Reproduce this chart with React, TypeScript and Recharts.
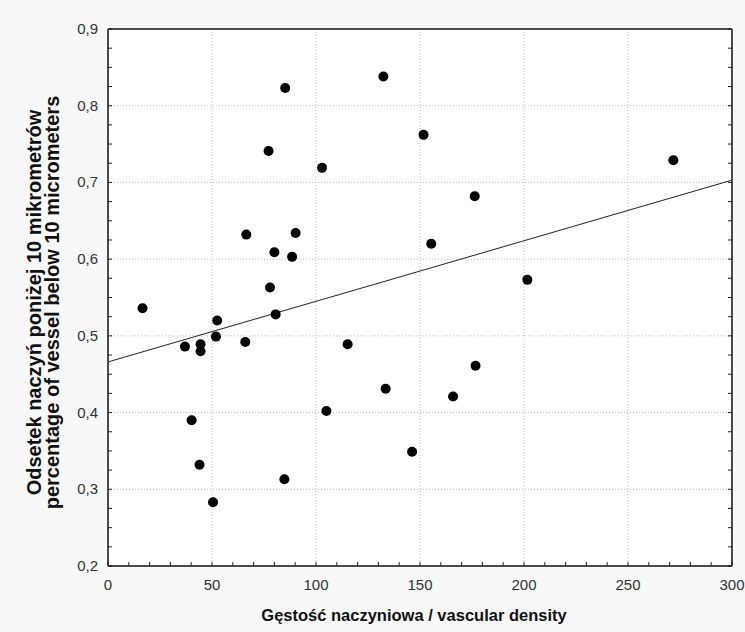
import React from 'react';
import { ScatterChart, Scatter, XAxis, YAxis, CartesianGrid, ReferenceLine, Label } from 'recharts';

// vascular density (x) vs fraction of vessels below 10 micrometers (y)
const density = [
  16.6, 37.0, 40.2, 44.5, 44.5, 44.0, 50.5, 51.9, 52.5, 66.5, 66.0, 77.2, 77.9, 80.0, 80.6, 85.2,
  84.8, 88.5, 90.2, 102.9, 105.0, 115.2, 132.4, 133.5, 146.2, 151.7, 155.4, 165.9, 176.3, 176.7, 201.6, 271.8,
];
const fraction = [
  0.536, 0.486, 0.390, 0.489, 0.480, 0.332, 0.283, 0.499, 0.520, 0.632, 0.492, 0.741, 0.563, 0.609, 0.528, 0.823,
  0.313, 0.603, 0.634, 0.719, 0.402, 0.489, 0.838, 0.431, 0.349, 0.762, 0.620, 0.421, 0.682, 0.461, 0.573, 0.729,
];
// fitted line, read at the plot edges
const fitX = [0, 300];
const fitY = [0.466, 0.703];

const xMajor = [0, 50, 100, 150, 200, 250, 300];
const xMinor = [0, 10, 20, 30, 40, 50, 60, 70, 80, 90, 100, 110, 120, 130, 140, 150, 160, 170, 180, 190, 200, 210, 220, 230, 240, 250, 260, 270, 280, 290, 300];
const yMajor = [0.2, 0.3, 0.4, 0.5, 0.6, 0.7, 0.8, 0.9];
const yMinor = [
  0.2, 0.225, 0.25, 0.275, 0.3, 0.325, 0.35, 0.375, 0.4, 0.425, 0.45, 0.475, 0.5, 0.525, 0.55, 0.575,
  0.6, 0.625, 0.65, 0.675, 0.7, 0.725, 0.75, 0.775, 0.8, 0.825, 0.85, 0.875, 0.9,
];

const xTitle = 'Gęstość naczyniowa / vascular density';
const yTitle1 = 'Odsetek naczyń poniżej 10 mikrometrów';
const yTitle2 = 'percentage of vessel below 10 micrometers';

const points = density.map((x, i) => ({ x, y: fraction[i] }));

const FONT = '"Liberation Sans", Arial, sans-serif';
const AXIS = '#4a4a4a';
const TL = 4;

const isMajorX = (v: number) => xMajor.includes(v);
const isMajorY = (v: number) => yMajor.some((m) => Math.abs(m - v) < 1e-6);
const fmtY = (v: number) => v.toFixed(1).replace('.', ',');

function BottomTick(props: any) {
  const { x, y, payload } = props;
  const v = payload.value;
  return (
    <g>
      <line x1={x} x2={x} y1={y} y2={y - TL} stroke="#222" />
      {isMajorX(v) && (
        <text x={x} y={y + 24} textAnchor="middle" fontFamily={FONT} fontSize={15} fill="#333">{v}</text>
      )}
    </g>
  );
}

function TopTick(props: any) {
  const { x, y } = props;
  return <line x1={x} x2={x} y1={y} y2={y + TL} stroke="#222" />;
}

function LeftTick(props: any) {
  const { x, y, payload } = props;
  const v = payload.value;
  return (
    <g>
      <line x1={x} x2={x + TL} y1={y} y2={y} stroke="#222" />
      {isMajorY(v) && (
        <text x={x - 10} y={y + 5} textAnchor="end" fontFamily={FONT} fontSize={15} fill="#333">{fmtY(v)}</text>
      )}
    </g>
  );
}

function RightTick(props: any) {
  const { x, y } = props;
  return <line x1={x} x2={x - TL} y1={y} y2={y} stroke="#222" />;
}

export default function App() {
  return (
    <div style={{ position: 'absolute', left: 0, top: 0, width: 745, height: 632, background: '#f8f8f8' }}>
      <ScatterChart width={745} height={632} margin={{ top: 19, right: 3, bottom: 26, left: 48 }}>
        <CartesianGrid
          xAxisId="b"
          yAxisId="l"
          fill="#ffffff"
          stroke="#bdbdbd"
          strokeDasharray="1 2"
          verticalValues={xMajor.slice(1, -1)}
          horizontalValues={yMajor.slice(1, -1)}
        />
        <XAxis
          xAxisId="b"
          type="number"
          dataKey="x"
          domain={[0, 300]}
          ticks={xMinor}
          interval={0}
          allowDataOverflow
          height={40}
          tickSize={0}
          tickMargin={0}
          tickLine={false}
          axisLine={{ stroke: AXIS, strokeWidth: 2 }}
          tick={<BottomTick />}
        >
          <Label
            content={(p: any) => {
              const vb = p.viewBox;
              return (
                <text x={vb.x + vb.width / 2 - 6} y={vb.y + 55} textAnchor="middle" fontFamily={FONT} fontWeight="bold" fontSize={16.5} fill="#111">
                  {xTitle}
                </text>
              );
            }}
          />
        </XAxis>
        <XAxis
          xAxisId="t"
          orientation="top"
          type="number"
          domain={[0, 300]}
          ticks={xMinor}
          interval={0}
          allowDataOverflow
          height={10}
          tickSize={0}
          tickMargin={0}
          tickLine={false}
          axisLine={{ stroke: AXIS, strokeWidth: 2 }}
          tick={<TopTick />}
        />
        <YAxis
          yAxisId="l"
          type="number"
          dataKey="y"
          domain={[0.2, 0.9]}
          ticks={yMinor}
          interval={0}
          allowDataOverflow
          width={60}
          tickSize={0}
          tickMargin={0}
          tickLine={false}
          axisLine={{ stroke: AXIS, strokeWidth: 2 }}
          tick={<LeftTick />}
        >
          <Label
            content={(p: any) => {
              const vb = p.viewBox;
              const cy = vb.y + vb.height / 2 + 5;
              return (
                <g fontFamily={FONT} fontWeight="bold" fontSize={20} fill="#111">
                  <text x={41} y={cy} textAnchor="middle" transform={`rotate(-90 41 ${cy})`}>{yTitle1}</text>
                  <text x={59} y={cy} textAnchor="middle" transform={`rotate(-90 59 ${cy})`}>{yTitle2}</text>
                </g>
              );
            }}
          />
        </YAxis>
        <YAxis
          yAxisId="r"
          orientation="right"
          type="number"
          domain={[0.2, 0.9]}
          ticks={yMinor}
          interval={0}
          allowDataOverflow
          width={10}
          tickSize={0}
          tickMargin={0}
          tickLine={false}
          axisLine={{ stroke: AXIS, strokeWidth: 2 }}
          tick={<RightTick />}
        />
        <ReferenceLine
          xAxisId="b"
          yAxisId="l"
          segment={[{ x: fitX[0], y: fitY[0] }, { x: fitX[1], y: fitY[1] }]}
          stroke="#222"
          strokeWidth={1}
        />
        <Scatter xAxisId="b" yAxisId="l" data={points} fill="#000" isAnimationActive={false}
          shape={(p: any) => <circle cx={p.cx} cy={p.cy} r={5} fill="#000" />} />
      </ScatterChart>
    </div>
  );
}
